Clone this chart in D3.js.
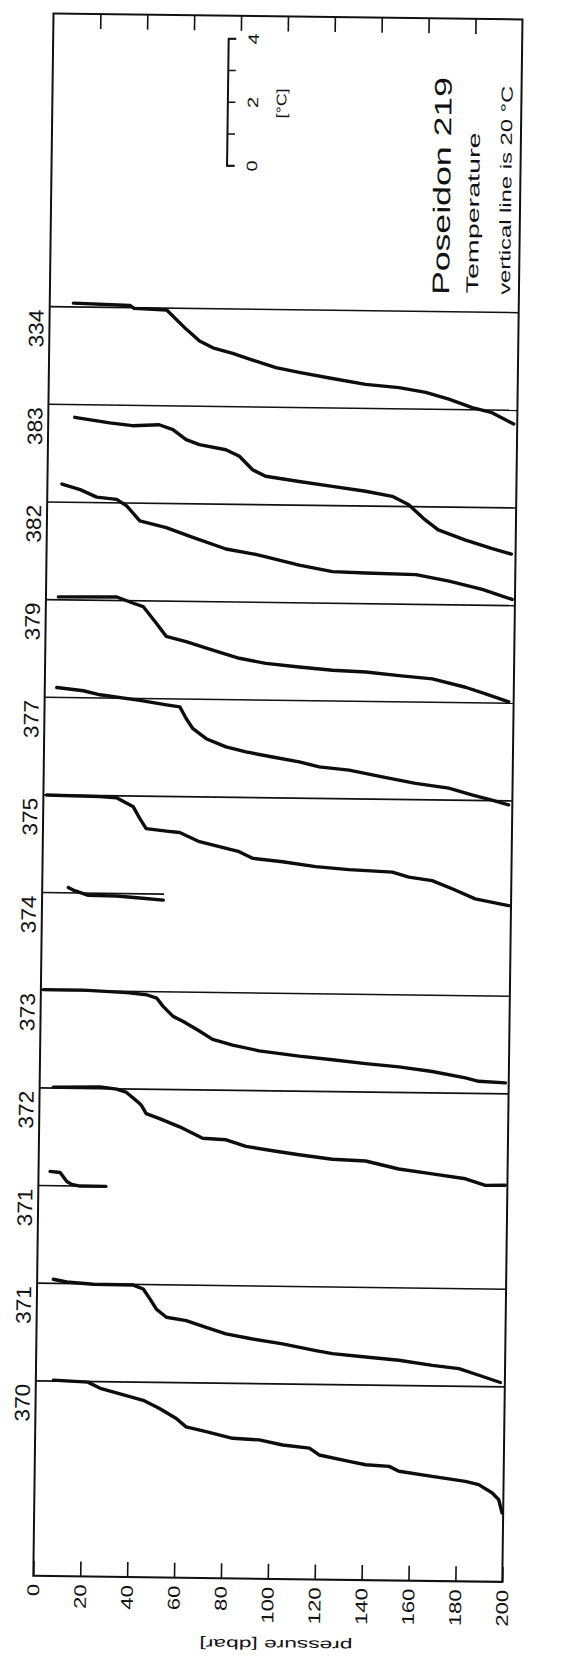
<!DOCTYPE html>
<html>
<head>
<meta charset="utf-8">
<script src="https://cdn.jsdelivr.net/npm/d3@7"></script>
<style>
  body { margin: 0; background: #fff; }
  svg { display: block; }
  text { font-family: "Liberation Sans", Arial, sans-serif; fill: #111; }
</style>
</head>
<body>
<svg id="chart" width="571" height="1657"></svg>
<script>
//  data : stations left to right in the (landscape) original plot
const stations = ["370", "371", "371", "372", "373", "374", "375", "377", "379", "382", "383", "334"];
//  deepest pressure reached by each station's 20 °C line (dbar)
const station_depth = [200, 200, 29, 200, 200, 52, 200, 200, 200, 200, 200, 200];
const pressure_ticks = [0, 20, 40, 60, 80, 100, 120, 140, 160, 180, 200];
const scale_ticks = [0, 1, 2, 3, 4];
const scale_labels = [0, 2, 4];

//  profiles : [pressure dbar, temperature °C]
const t370 = [[7.5,20.03],[22.2,19.98],[27.9,19.78],[45.9,19.43],[52.9,19.18],[60.1,18.87],[64.3,18.61],[72.9,18.47],[84.2,18.27],[95.6,18.23],[105.6,18.08],[117,17.99],[121.2,17.78],[134,17.59],[141.1,17.49],[151.1,17.45],[155.3,17.30],[169.5,17.15],[183.7,17.01],[189.4,16.91],[195.1,16.66],[198,16.45],[199.5,16.03]];
const t371 = [[6.9,20.13],[12.6,20.05],[24,19.99],[41,19.98],[45.3,19.86],[48.2,19.55],[51,19.23],[55.3,18.98],[63.8,18.88],[72.3,18.68],[80.8,18.48],[92.2,18.33],[105,18.19],[119.2,17.99],[126.3,17.9],[140.5,17.81],[154.7,17.72],[169,17.57],[180.3,17.48],[188.9,17.28],[198.1,17.06]];
const t371b = [[4.9,20.45],[9.2,20.42],[12.1,20.14],[14.2,20.05],[17.7,20.0],[28.8,20.0]];
const t372 = [[5.8,20.03],[25.8,20.05],[32.9,19.99],[37.1,19.89],[41.4,19.63],[43.5,19.49],[45.6,19.23],[51.3,19.08],[59.9,18.83],[69.8,18.48],[79.8,18.44],[88.3,18.24],[101.1,18.1],[111,18.0],[125.2,17.87],[139.4,17.83],[153.6,17.59],[167.9,17.45],[182.1,17.31],[190.6,17.11],[199.1,17.12]];
const t373 = [[1,20.02],[18.1,20.02],[36.6,19.96],[45.1,19.9],[49.4,19.8],[52.2,19.54],[56.5,19.23],[60.7,19.08],[67.8,18.78],[73.5,18.52],[82.1,18.35],[93.4,18.18],[110.5,18.03],[124.7,17.93],[138.9,17.82],[153.1,17.73],[167.3,17.6],[181.5,17.41],[187.2,17.31],[198.6,17.27]];
const t374 = [[11.1,20.17],[13.2,20.09],[19.7,19.93],[31.8,19.92],[41.7,19.87],[51.7,19.81]];
const t375 = [[1.4,20.0],[24.1,19.97],[31.2,19.94],[38.4,19.66],[41.2,19.3],[44,18.98],[52.6,18.91],[58.3,18.87],[66.8,18.59],[75.3,18.44],[83.8,18.29],[89.5,18.09],[102.3,17.99],[116.5,17.85],[130.7,17.77],[149.2,17.71],[156.3,17.56],[166.2,17.46],[174.8,17.21],[184.7,16.9],[194.7,16.76],[199,16.7]];
const t377 = [[5.1,20.31],[16.5,20.22],[23.6,20.1],[40.6,19.94],[52,19.81],[57.7,19.75],[60.5,19.38],[63.4,19.07],[69.1,18.76],[77.6,18.51],[86.1,18.36],[97.5,18.21],[108.9,18.07],[117.4,17.92],[130.2,17.83],[144.4,17.63],[158.6,17.44],[172.8,17.3],[182.7,17.1],[191.3,16.94],[198.4,16.8]];
const t379 = [[5.3,20.09],[30.2,20.11],[37.3,19.92],[41.5,19.82],[47.2,19.3],[51.5,18.89],[60,18.73],[71.4,18.48],[82.8,18.23],[94.1,18.08],[108.3,17.98],[122.6,17.89],[136.8,17.85],[151,17.75],[165.2,17.66],[179.4,17.41],[188,17.21],[197.9,16.97]];
const t382 = [[6.2,20.57],[14,20.4],[21.1,20.17],[29.6,20.11],[33.9,19.91],[39.6,19.44],[50.9,19.24],[62.3,18.94],[76.5,18.59],[87.9,18.45],[93.6,18.36],[107.8,18.11],[122,17.92],[136.2,17.89],[157.6,17.86],[171.8,17.67],[186,17.42],[198.8,17.12]];
const t383 = [[11.3,19.6],[26.2,19.44],[36,19.36],[47.3,19.4],[53.2,19.25],[58.9,18.94],[64.6,18.79],[75.9,18.64],[81.7,18.44],[87.4,18.02],[93,17.82],[107.3,17.67],[121.5,17.53],[135.7,17.39],[147.1,17.24],[154.2,16.98],[161.3,16.51],[166.9,16.2],[178.3,15.9],[189.7,15.64],[198.2,15.47]];
const t334 = [[10.1,20.12],[34.2,20.07],[36,19.98],[49.9,19.94],[58.4,19.34],[64.1,18.98],[69.8,18.77],[78.3,18.6],[86.8,18.4],[96.8,18.17],[106.7,18.03],[120.9,17.85],[135.1,17.68],[149.4,17.59],[160.8,17.45],[170.7,17.25],[180.7,16.99],[189.2,16.84],[198.5,16.49]];

const profiles = [t370, t371, t371b, t372, t373, t374, t375, t377, t379, t382, t383, t334];
const ref_temp = 20;

//  draw
function draw_sections() {
  const W = 1657;   // length of the landscape page, turned on its side
  const svg = d3.select("#chart");
  svg.selectAll('*').remove();

  //  the scan is a little skewed, then the page is turned by 90 degrees
  const page = svg.append("g").attr("transform", "rotate(0.74,285,828)");
  const g = page.append("g").attr("transform", `translate(0,${W}) rotate(-90)`);

  const frame = {left: 78, right: 1640.5, top: 43, bottom: 512};

  const y = d3.scaleLinear().domain([0, 200]).range([frame.top, frame.bottom]);
  const x = d3.scalePoint().domain(d3.range(stations.length)).range([273, 1347.3]);
  const dT = d3.scaleLinear().domain([0, 1]).range([0, 31.75]);

  //  frame
  g.append("rect")
    .attr("x", frame.left).attr("y", frame.top)
    .attr("width", frame.right - frame.left).attr("height", frame.bottom - frame.top)
    .attr("fill", "none").attr("stroke", "#111").attr("stroke-width", 2);

  //  pressure axis, ticks inside
  const yAxis = g.append("g")
    .attr("transform", `translate(${frame.left},0)`)
    .call(d3.axisLeft(y).tickValues(pressure_ticks).tickSize(-15).tickPadding(8));
  yAxis.select(".domain").remove();
  yAxis.selectAll("line").attr("stroke", "#111").attr("stroke-width", 1.6);
  yAxis.selectAll("text")
    .attr("font-size", 17)
    .attr("font-family", null)
    .attr("textLength", d => String(d).length * 12.3)
    .attr("lengthAdjust", "spacingAndGlyphs");

  const yAxisR = g.append("g")
    .attr("transform", `translate(${frame.right},0)`)
    .call(d3.axisRight(y).tickValues(pressure_ticks.slice(1, -1)).tickSize(-15).tickFormat(""));
  yAxisR.select(".domain").remove();
  yAxisR.selectAll("line").attr("stroke", "#111").attr("stroke-width", 1.6);

  g.append("text")
    .attr("transform", `translate(17,${(frame.top + frame.bottom) / 2 + 9}) rotate(-90)`)
    .attr("text-anchor", "middle")
    .attr("font-size", 14)
    .attr("textLength", 153).attr("lengthAdjust", "spacingAndGlyphs")
    .text("pressure  [dbar]");

  //  station lines (20 °C) and labels
  g.append("g").selectAll("line")
    .data(stations)
    .join("line")
      .attr("x1", (d, i) => x(i)).attr("x2", (d, i) => x(i))
      .attr("y1", y(0)).attr("y2", (d, i) => y(station_depth[i]))
      .attr("stroke", "#111").attr("stroke-width", 1.6);

  g.append("g").selectAll("text")
    .data(stations)
    .join("text")
      .attr("x", (d, i) => x(i) - 3)
      .attr("y", 37)
      .attr("text-anchor", "end")
      .attr("font-size", 21)
      .attr("textLength", 38).attr("lengthAdjust", "spacingAndGlyphs")
      .text(d => d);

  //  profiles
  const line = (i) => d3.line()
    .x(d => x(i) + dT(d[1] - ref_temp))
    .y(d => y(d[0]));

  g.append("g").selectAll("path")
    .data(profiles)
    .join("path")
      .attr("fill", "none")
      .attr("stroke", "#0d0d0d")
      .attr("stroke-width", 3.4)
      .attr("stroke-linejoin", "round")
      .attr("stroke-linecap", "round")
      .attr("d", (d, i) => line(i)(d));

  //  temperature scale bar
  const sx = d3.scaleLinear().domain([0, 4]).range([1490, 1617]);
  const bar = g.append("g")
    .attr("transform", "translate(0,218)")
    .call(d3.axisBottom(sx).tickValues(scale_ticks).tickSize(8).tickPadding(12)
      .tickFormat(d => scale_labels.includes(d) ? d : ""));
  bar.select(".domain").attr("stroke", "#111").attr("stroke-width", 2);
  bar.selectAll("line").attr("stroke", "#111").attr("stroke-width", 1.6);
  bar.selectAll("text").attr("font-size", 15).attr("font-family", null)
    .attr("textLength", 11).attr("lengthAdjust", "spacingAndGlyphs");

  g.append("text")
    .attr("x", sx(2)).attr("y", 277)
    .attr("text-anchor", "middle")
    .attr("font-size", 14)
    .attr("textLength", 30).attr("lengthAdjust", "spacingAndGlyphs")
    .text("[°C]");

  //  titles
  g.append("text")
    .attr("x", 1364).attr("y", 442)
    .attr("font-size", 24)
    .attr("textLength", 218).attr("lengthAdjust", "spacingAndGlyphs")
    .text("Poseidon 219");
  g.append("text")
    .attr("x", 1366).attr("y", 471)
    .attr("font-size", 17)
    .attr("textLength", 161).attr("lengthAdjust", "spacingAndGlyphs")
    .text("Temperature");
  g.append("text")
    .attr("x", 1365).attr("y", 503)
    .attr("font-size", 16)
    .attr("textLength", 209).attr("lengthAdjust", "spacingAndGlyphs")
    .text("vertical line is 20 °C");
}

draw_sections();
</script>
</body>
</html>
